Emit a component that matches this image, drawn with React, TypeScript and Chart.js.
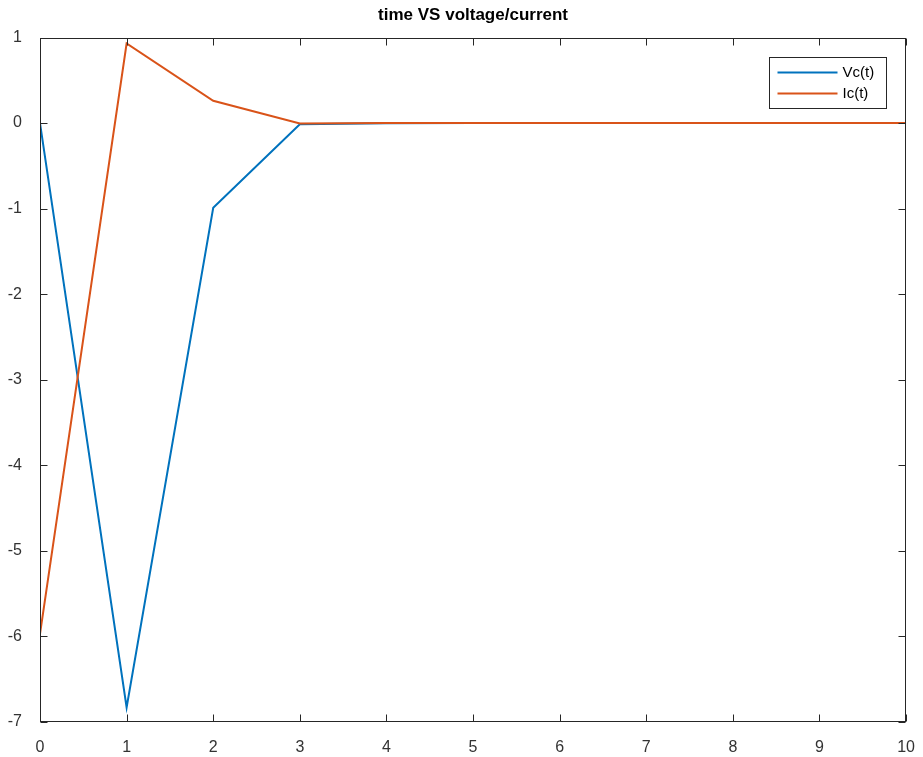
import React, { useEffect, useRef } from "react";
import { Chart, registerables } from "chart.js";

Chart.register(...registerables);

const titleText = "time VS voltage/current";
const tValues = [0, 1, 2, 3, 4, 5, 6, 7, 8, 9, 10];
const vcValues = [0, -6.83, -0.99, -0.015, -0.002, 0, 0, 0, 0, 0, 0];
const icValues = [-5.97, 0.93, 0.26, -0.005, 0.001, 0, 0, 0, 0, 0, 0];
const seriesLabels = ["Vc(t)", "Ic(t)"];
const seriesColors = ["#0072BD", "#D95319"];

const FONT = '"Liberation Sans", Arial, Helvetica, sans-serif';
const AXIS = "#262626";
const LABEL = "#333333";

const boxPlugin = {
  id: "matlabBox",
  afterDraw(chart: any) {
    const { ctx, chartArea, scales } = chart;
    const left = Math.round(chartArea.left) + 0.5;
    const right = Math.round(chartArea.right) - 0.5;
    const top = Math.round(chartArea.top) + 0.5;
    const bottom = Math.round(chartArea.bottom) - 0.5;
    ctx.save();
    ctx.strokeStyle = AXIS;
    ctx.lineWidth = 1;
    ctx.strokeRect(left, top, right - left, bottom - top);
    const tl = 7;
    ctx.beginPath();
    scales.x.ticks.forEach((t: any) => {
      const px = Math.round(scales.x.getPixelForValue(t.value)) + 0.5;
      ctx.moveTo(px, bottom);
      ctx.lineTo(px, bottom - tl);
      ctx.moveTo(px, top);
      ctx.lineTo(px, top + tl);
    });
    scales.y.ticks.forEach((t: any) => {
      const py = Math.round(scales.y.getPixelForValue(t.value)) + 0.5;
      ctx.moveTo(left, py);
      ctx.lineTo(left + tl, py);
      ctx.moveTo(right, py);
      ctx.lineTo(right - tl, py);
    });
    ctx.stroke();

    // legend
    const bx = 769.5, by = 57.5, bw = 117, bh = 51;
    ctx.fillStyle = "#ffffff";
    ctx.fillRect(bx, by, bw, bh);
    ctx.strokeStyle = AXIS;
    ctx.strokeRect(bx, by, bw, bh);
    ctx.font = `15px ${FONT}`;
    ctx.textBaseline = "middle";
    ctx.textAlign = "left";
    chart.data.datasets.forEach((ds: any, i: number) => {
      const ly = by + 15 + i * 21;
      ctx.strokeStyle = ds.borderColor;
      ctx.lineWidth = 2;
      ctx.beginPath();
      ctx.moveTo(bx + 8, ly);
      ctx.lineTo(bx + 68, ly);
      ctx.stroke();
      ctx.fillStyle = "#000";
      ctx.fillText(ds.label, bx + 73, ly);
    });
    ctx.restore();
  },
};

export default function App() {
  const ref = useRef<HTMLCanvasElement>(null);
  useEffect(() => {
    document.body.style.margin = "0";
    const toPts = (vals: number[]) => tValues.map((t, i) => ({ x: t, y: vals[i] }));
    const chart = new Chart(ref.current!, {
      type: "line",
      data: {
        datasets: [
          {
            label: seriesLabels[0],
            data: toPts(vcValues),
            borderColor: seriesColors[0],
            backgroundColor: seriesColors[0],
            borderWidth: 2,
            pointRadius: 0,
            tension: 0,
            order: 2,
          },
          {
            label: seriesLabels[1],
            data: toPts(icValues),
            borderColor: seriesColors[1],
            backgroundColor: seriesColors[1],
            borderWidth: 2,
            pointRadius: 0,
            tension: 0,
            order: 1,
          },
        ],
      },
      options: {
        animation: false,
        responsive: false,
        devicePixelRatio: 1,
        layout: { padding: { left: 0, right: 14, top: 0, bottom: 0 } },
        plugins: {
          legend: { display: false },
          tooltip: { enabled: false },
          title: {
            display: true,
            fullSize: false,
            text: titleText,
            color: "#000",
            font: { size: 17, weight: "bold", family: FONT },
            padding: { top: 5, bottom: 12.1 },
          },
        },
        scales: {
          x: {
            type: "linear",
            min: 0,
            max: 10,
            ticks: { stepSize: 1, color: LABEL, font: { size: 16, family: FONT }, padding: 8, maxRotation: 0 },
            grid: { display: false },
            border: { display: false },
            afterFit: (s: any) => {
              s.height = 35;
            },
          },
          y: {
            type: "linear",
            min: -7,
            max: 1,
            ticks: { stepSize: 1, color: LABEL, font: { size: 16, family: FONT }, padding: 10 },
            grid: { display: false },
            border: { display: false },
            afterFit: (s: any) => {
              s.width = 40;
            },
          },
        },
      },
      plugins: [boxPlugin],
    } as any);
    return () => chart.destroy();
  }, []);
  return (
    <div style={{ width: 923, height: 757, background: "#fff" }}>
      <canvas ref={ref} width={923} height={757} style={{ display: "block" }} />
    </div>
  );
}
